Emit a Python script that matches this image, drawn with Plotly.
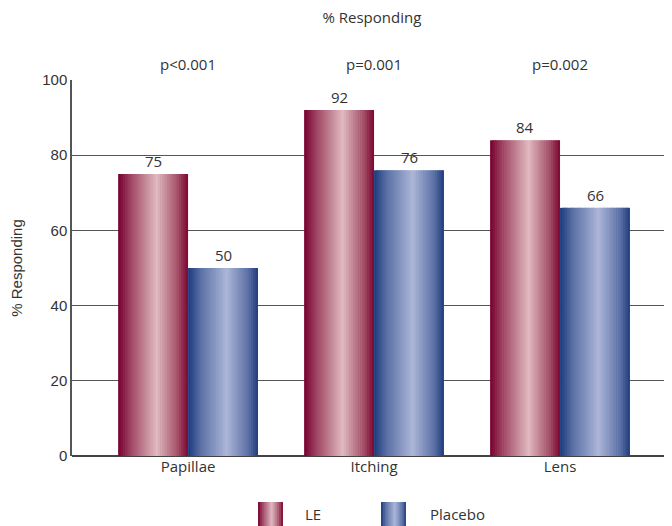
import plotly.graph_objects as go

categories = ["Papillae", "Itching", "Lens"]
le_values = [75, 92, 84]
placebo_values = [50, 76, 66]
p_values = ["p<0.001", "p=0.001", "p=0.002"]
series_names = ["LE", "Placebo"]

# gradient stops (position, rgb) for the cylinder-like shading
LE_STOPS = [(0.0, (118, 0, 46)), (0.18, (160, 70, 100)), (0.55, (224, 186, 192)),
            (0.85, (165, 80, 105)), (1.0, (122, 6, 48))]
PL_STOPS = [(0.0, (28, 58, 124)), (0.18, (90, 112, 165)), (0.55, (172, 182, 216)),
            (0.85, (95, 115, 168)), (1.0, (32, 60, 124))]


def grad_color(stops, t):
    for (t0, c0), (t1, c1) in zip(stops[:-1], stops[1:]):
        if t0 <= t <= t1:
            f = (t - t0) / (t1 - t0) if t1 > t0 else 0
            c = [round(a + (b - a) * f) for a, b in zip(c0, c1)]
            return f"rgb({c[0]},{c[1]},{c[2]})"
    c = stops[-1][1]
    return f"rgb({c[0]},{c[1]},{c[2]})"


fig = go.Figure()
xpos = list(range(len(categories)))
BAR_W = 0.376
N = 30
strip = BAR_W / N

for values, stops, start in [(le_values, LE_STOPS, -BAR_W), (placebo_values, PL_STOPS, 0.0)]:
    for i in range(N):
        t = (i + 0.5) / N
        w = strip * 1.6 if i < N - 1 else strip
        fig.add_trace(go.Bar(
            x=xpos, y=values, width=w, offset=start + i * strip,
            marker=dict(color=grad_color(stops, t), line=dict(width=0)),
            showlegend=False, hoverinfo="skip",
        ))

annotations = []
# value labels above bars
for values, off in [(le_values, -BAR_W / 2), (placebo_values, BAR_W / 2)]:
    for x, v in zip(xpos, values):
        annotations.append(dict(x=x + off, y=v, xref="x", yref="y", text=str(v),
                                showarrow=False, yanchor="bottom", yshift=1,
                                font=dict(family="Open Sans", size=15, color="#333333")))

for x, p in zip(xpos, p_values):
    annotations.append(dict(x=x, y=1.0, xref="x", yref="paper", text=p,
                            showarrow=False, yanchor="bottom", yshift=4,
                            font=dict(family="Open Sans", size=15, color="#333333")))

# custom legend with gradient swatches (reference pixel coords -> paper)
shapes = []
legend_items = [(258, 283, 303, "LE", LE_STOPS), (381, 406, 428, "Placebo", PL_STOPS)]
for x0, x1, tx, name, stops in legend_items:
    n = 12
    for i in range(n):
        a = x0 + (x1 - x0) * i / n
        b = x0 + (x1 - x0) * (i + 1.4) / n if i < n - 1 else x1
        shapes.append(dict(type="rect", xref="paper", yref="paper",
                           x0=(a - 72) / 600, x1=(b - 72) / 600,
                           y0=(456 - 502) / 376, y1=(456 - 530) / 376,
                           fillcolor=grad_color(stops, (i + 0.5) / n), line=dict(width=0),
                           layer="above"))
    annotations.append(dict(x=(tx - 72) / 600, y=(456 - 514) / 376, xref="paper", yref="paper",
                            text=name, showarrow=False, xanchor="left", yanchor="middle",
                            font=dict(family="Open Sans", size=15, color="#333333")))

fig.update_layout(
    width=664, height=518,
    margin=dict(l=64, r=0, t=72, b=70),
    paper_bgcolor="white", plot_bgcolor="white",
    barmode="overlay", showlegend=False,
    title=dict(text="% Responding", x=0.548, xanchor="center", y=0.981, yanchor="middle",
               font=dict(family="Open Sans", size=15, color="#333333")),
    xaxis=dict(range=[-0.624, 2.602], tickmode="array", tickvals=xpos, ticktext=categories,
               showgrid=False, showline=False, zeroline=False, ticks="",
               tickfont=dict(family="Open Sans", size=15, color="#333333")),
    yaxis=dict(range=[0, 100], tickvals=[0, 20, 40, 60, 80, 100], showgrid=True,
               gridcolor="#555555", gridwidth=1, showline=True, linecolor="#555555",
               linewidth=1.5, zeroline=True, zerolinecolor="#444444", zerolinewidth=2,
               ticks="", ticklen=0,
               tickfont=dict(family="Liberation Sans", size=15, color="#333333"),
               title=dict(text="% Responding", standoff=16,
                          font=dict(family="Liberation Sans", size=15, color="#333333"))),
    annotations=annotations, shapes=shapes,
)

fig.write_html("out.html")
